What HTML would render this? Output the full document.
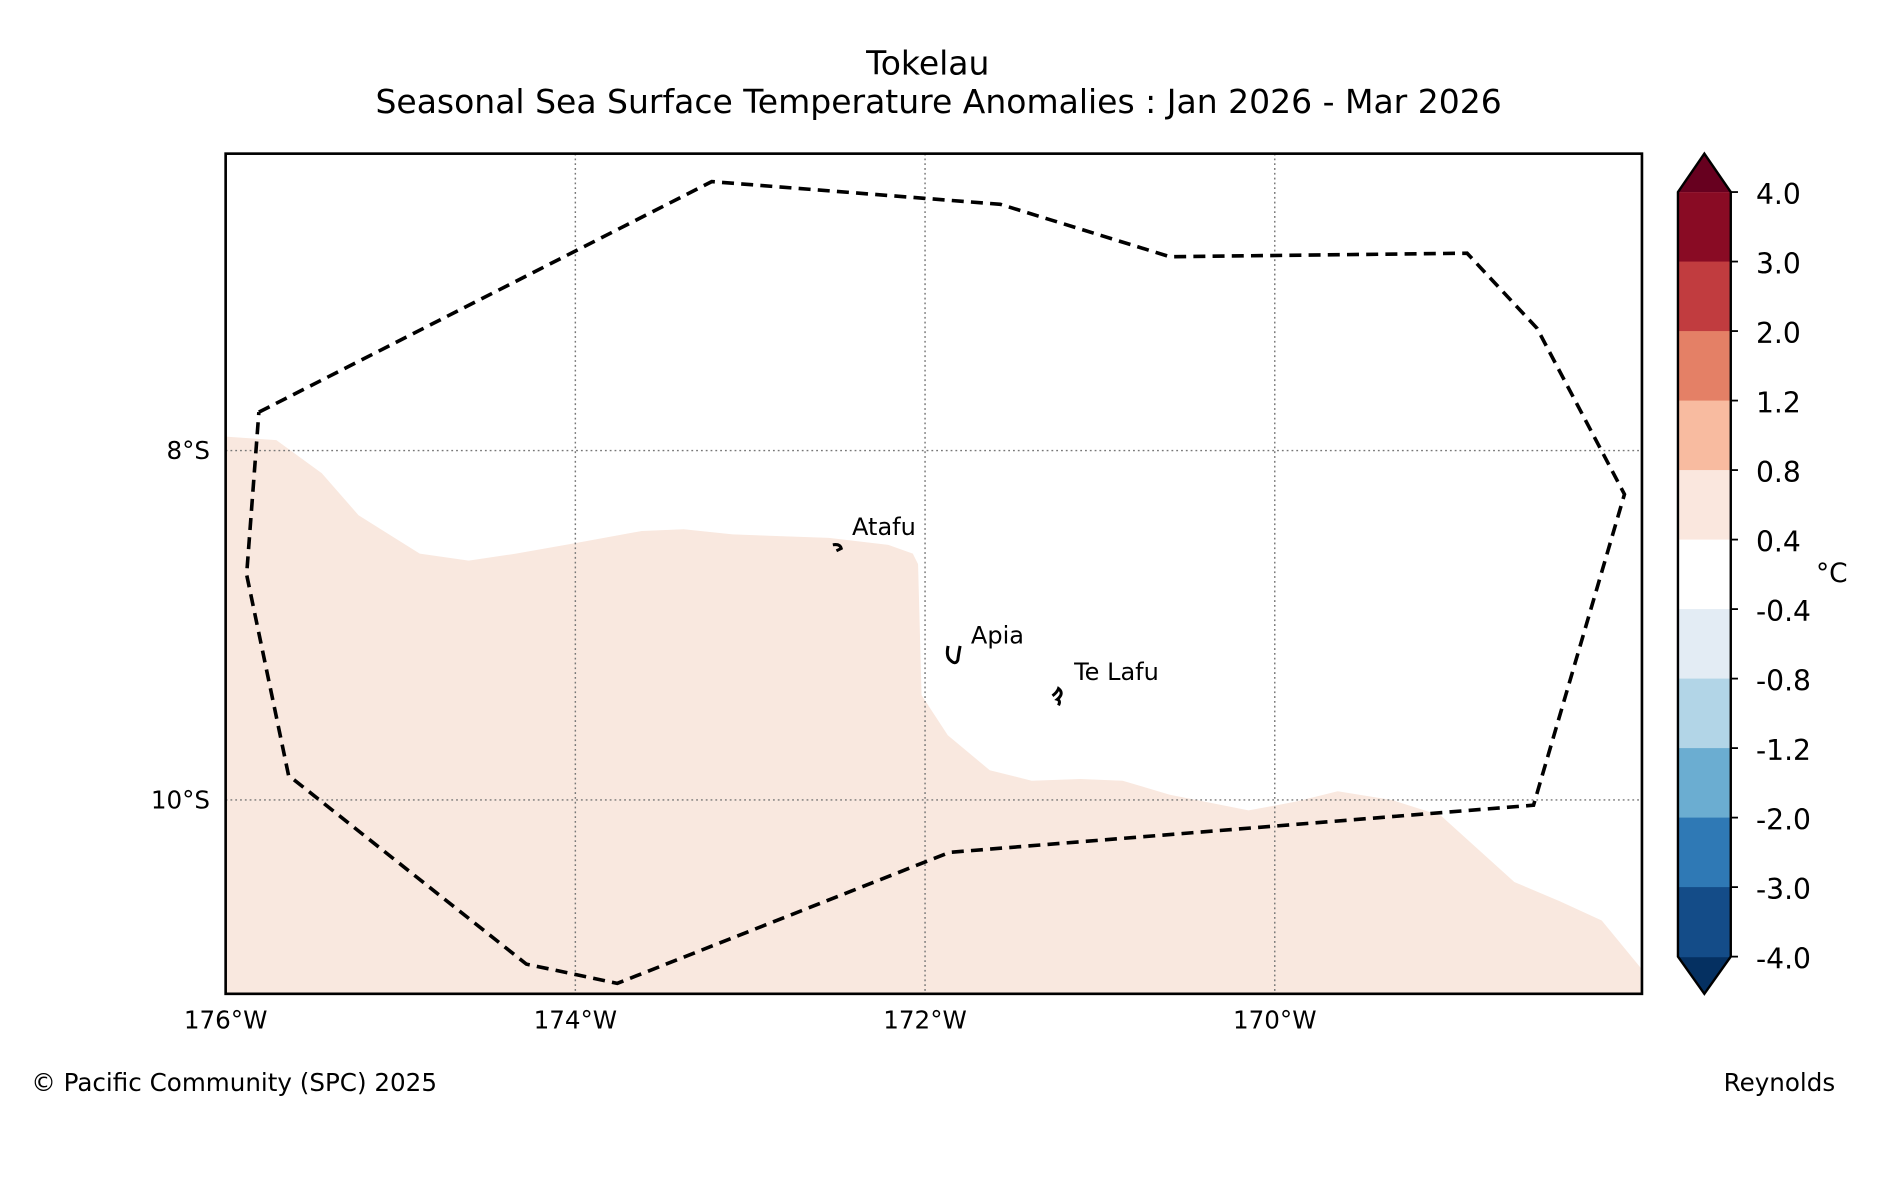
<!DOCTYPE html>
<html><head><meta charset="utf-8">
<style>
html,body{margin:0;padding:0;background:#fff;}
svg{display:block;font-family:"DejaVu Sans","Liberation Sans",sans-serif;}
</style></head>
<body>
<svg id="chart" width="1882" height="1180" viewBox="0 0 1568 983.1" xmlns="http://www.w3.org/2000/svg">
<text x="773" y="62" text-anchor="middle" font-size="27.5">Tokelau</text>
<text x="782" y="94" text-anchor="middle" font-size="27.5">Seasonal Sea Surface Temperature Anomalies : Jan 2026 - Mar 2026</text>
<g id="map"></g>
<g id="cbar"></g>
<text x="26" y="909" font-size="20.5">© Pacific Community (SPC) 2025</text>
<text x="1529" y="909" text-anchor="end" font-size="20.5">Reynolds</text>
</svg>
<script>
const lonTicks=[-176,-174,-172,-170];
const latTicks=[-8,-10];
const anomalyLon=[-176.00,-175.71,-175.45,-175.24,-174.89,-174.61,-174.34,-174.00,-173.62,-173.38,-173.10,-172.55,-172.21,-172.07,-172.04,-172.02,-171.87,-171.63,-171.39,-171.11,-170.87,-170.60,-170.15,-169.88,-169.64,-169.33,-169.05,-168.63,-168.37,-168.13,-167.90,-167.90,-176.00];
const anomalyLat=[-7.92,-7.94,-8.13,-8.37,-8.59,-8.63,-8.59,-8.53,-8.46,-8.45,-8.48,-8.50,-8.54,-8.59,-8.65,-9.40,-9.63,-9.83,-9.89,-9.88,-9.89,-9.97,-10.06,-10.01,-9.95,-10.00,-10.09,-10.47,-10.58,-10.69,-10.97,-11.11,-11.11];
const eezLon=[-175.81,-173.22,-171.57,-170.60,-168.90,-168.50,-168.00,-168.52,-171.86,-173.76,-174.28,-175.64,-175.88,-175.81];
const eezLat=[-7.78,-6.46,-6.59,-6.89,-6.87,-7.30,-8.25,-10.03,-10.30,-11.05,-10.94,-9.86,-8.71,-7.78];
const islandNames=["Atafu","Apia","Te Lafu"];
const islandLon=[-172.50,-171.82,-171.23];
const islandLat=[-8.56,-9.18,-9.39];
const cbarLevels=["4.0","3.0","2.0","1.2","0.8","0.4","-0.4","-0.8","-1.2","-2.0","-3.0","-4.0"];
const cbarColors=["#890b24","#c13c3f","#e48066","#f8bba0","#fae7de","#ffffff","#e3ecf4","#b2d5e7","#6badd1","#2f79b5","#144c88"];

const NS="http://www.w3.org/2000/svg";
const X0=188,X1=1368,Y0=128,Y1=828;
const lonMin=-176,lonMax=-167.9,latMax=-6.3,latMin=-11.11;
const xs=l=>X0+(l-lonMin)/(lonMax-lonMin)*(X1-X0);
const ys=l=>Y0+(latMax-l)/(latMax-latMin)*(Y1-Y0);
function mk(tag,attrs,parent){const e=document.createElementNS(NS,tag);for(const k in attrs)e.setAttribute(k,attrs[k]);parent.appendChild(e);return e;}
const map=document.getElementById('map');
const defs=mk('defs',{},map);
const cp=mk('clipPath',{id:'clip'},defs);
mk('rect',{x:X0,y:Y0,width:X1-X0,height:Y1-Y0},cp);
const g=mk('g',{'clip-path':'url(#clip)'},map);
let pts=anomalyLon.map((l,i)=>xs(l)+','+ys(anomalyLat[i])).join(' ');
const an=mk('polygon',{points:pts,fill:'#f9e8df'},g);


lonTicks.forEach(l=>{
  const ln=mk('line',{x1:xs(l),x2:xs(l),y1:Y0,y2:Y1,stroke:'#777','stroke-width':1.2,'stroke-dasharray':'1.5,2.5'},g);
  
  
  const t=mk('text',{x:xs(l),y:Y1+29,'text-anchor':'middle','font-size':20.5},map);
  t.textContent=Math.abs(l)+'°W';
  
  
});
latTicks.forEach(l=>{
  const ln=mk('line',{x1:X0,x2:X1,y1:ys(l),y2:ys(l),stroke:'#777','stroke-width':1.2,'stroke-dasharray':'1.5,2.5'},g);
  
  
  const t=mk('text',{x:X0-13,y:ys(l)+7,'text-anchor':'end','font-size':20.5},map);
  t.textContent=Math.abs(l)+'°S';
  
  
});
pts=eezLon.map((l,i)=>xs(l)+','+ys(eezLat[i])).join(' ');
const ez=mk('polyline',{points:pts,fill:'none',stroke:'#000','stroke-width':3,'stroke-dasharray':'10,6'},g);


const shapes=["M-4,-3 q6,-1 7,3 l-4,2","M-7,-9 q-2,9 2,12 q4,4 6,0 q1,-7 2,-12","M-6,2 q4,-3 5,-6 q5,4 -1,9 q3,1 1,5"];
islandNames.forEach((n,i)=>{
  const x=xs(islandLon[i]),y=ys(islandLat[i]);
  const p=mk('path',{d:shapes[i],transform:`translate(${x},${y})`,fill:'none',stroke:'#000','stroke-width':2.5},map);
  
  
  const t=mk('text',{x:x+12,y:y-11,'font-size':20},map);
  t.textContent=n;
  
  
});
const fr=mk('rect',{x:X0,y:Y0,width:X1-X0,height:Y1-Y0,fill:'none',stroke:'#000','stroke-width':2.2},map);



const cb=document.getElementById('cbar');
const CX=1398,CW=44,CT=160,CB=797;
const bh=(CB-CT)/cbarColors.length;
const up=mk('polygon',{points:`${CX},${CT} ${CX+CW/2},128 ${CX+CW},${CT}`,fill:'#67001f'},cb);


const dn=mk('polygon',{points:`${CX},${CB} ${CX+CW/2},828 ${CX+CW},${CB}`,fill:'#053061'},cb);


cbarColors.forEach((c,i)=>{
  const r=mk('rect',{x:CX,y:CT+i*bh,width:CW,height:bh+0.5,fill:c},cb);
  
  
});
mk('polygon',{points:`${CX},${CT} ${CX+CW/2},128 ${CX+CW},${CT} ${CX+CW},${CB} ${CX+CW/2},828 ${CX},${CB}`,fill:'none',stroke:'#000','stroke-width':2},cb);
cbarLevels.forEach((v,i)=>{
  const y=CT+i*bh;
  mk('line',{x1:CX+CW,x2:CX+CW+6,y1:y,y2:y,stroke:'#000','stroke-width':1.5},cb);
  const t=mk('text',{x:CX+CW+21,y:y+10,'font-size':23.5},cb);
  t.textContent=v;
  
  
});
const u=mk('text',{x:1513,y:485,'font-size':22},cb);
u.textContent='°C';


</script>
</body></html>
